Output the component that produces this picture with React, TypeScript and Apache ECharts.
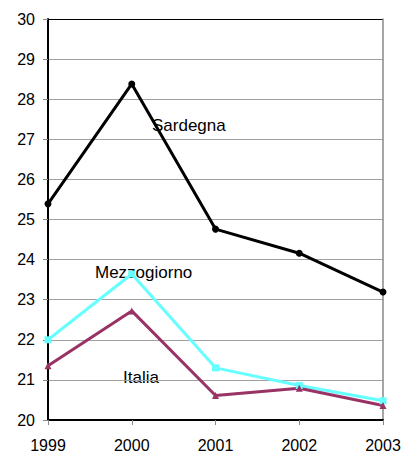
import React, { useEffect, useRef } from "react";
import * as echarts from "echarts";

const years = ["1999", "2000", "2001", "2002", "2003"];
const sardegna = [25.39, 28.38, 24.76, 24.16, 23.19];
const mezzogiorno = [22.0, 23.64, 21.3, 20.86, 20.48];
const italia = [21.35, 22.72, 20.61, 20.79, 20.36];

const FONT = "'Liberation Sans', Arial, sans-serif";

export default function App() {
  const ref = useRef<HTMLDivElement>(null);

  useEffect(() => {
    if (!ref.current) return;
    const chart = echarts.init(ref.current, null, { renderer: "svg" });
    // gridlines: grey inside, black at the top edge
    const splitColors = Array.from({ length: 11 }, (_, i) => (i === 10 ? "#000" : "#a0a0a0"));
    chart.setOption({
      animation: false,
      grid: { left: 48, right: 21, top: 19, bottom: 32, outerBoundsMode: "none" },
      textStyle: { fontFamily: FONT },
      xAxis: {
        type: "category",
        data: years,
        boundaryGap: false,
        axisLine: { lineStyle: { color: "#000", width: 2 } },
        axisTick: { show: true, length: 5, lineStyle: { color: "#888" } },
        axisLabel: { color: "#000", fontSize: 16, fontFamily: FONT, margin: 17 },
      },
      yAxis: [
        {
          type: "value",
          min: 20,
          max: 30,
          interval: 1,
          axisLine: { show: true, lineStyle: { color: "#000", width: 2 } },
          axisTick: { show: true, length: 5, lineStyle: { color: "#888" } },
          axisLabel: { color: "#000", fontSize: 16, fontFamily: FONT, margin: 13 },
          splitLine: { show: true, lineStyle: { color: splitColors, width: 1 } },
        },
        {
          type: "value",
          position: "right",
          min: 20,
          max: 30,
          interval: 1,
          axisLine: { show: true, lineStyle: { color: "#888", width: 1.5 } },
          axisTick: { show: false },
          axisLabel: { show: false },
          splitLine: { show: false },
        },
      ],
      series: [
        {
          name: "Sardegna",
          type: "line",
          data: sardegna,
          symbol: "circle",
          symbolSize: 7,
          lineStyle: { color: "#000", width: 3 },
          itemStyle: { color: "#000" },
        },
        {
          name: "Mezzogiorno",
          type: "line",
          data: mezzogiorno,
          symbol: "rect",
          symbolSize: 7,
          lineStyle: { color: "#66ffff", width: 3 },
          itemStyle: { color: "#66ffff" },
        },
        {
          name: "Italia",
          type: "line",
          data: italia,
          symbol: "triangle",
          symbolSize: 7,
          lineStyle: { color: "#993366", width: 3 },
          itemStyle: { color: "#993366" },
        },
      ],
      graphic: [
        { type: "text", left: 152, top: 117, style: { text: "Sardegna", font: `17px ${FONT}`, fill: "#000" } },
        { type: "text", left: 95, top: 264, style: { text: "Mezzogiorno", font: `17px ${FONT}`, fill: "#000" } },
        { type: "text", left: 123, top: 369, style: { text: "Italia", font: `17px ${FONT}`, fill: "#000" } },
      ],
    });
    return () => chart.dispose();
  }, []);

  return <div ref={ref} style={{ width: 404, height: 452, position: "absolute", left: 0, top: 0 }} />;
}
